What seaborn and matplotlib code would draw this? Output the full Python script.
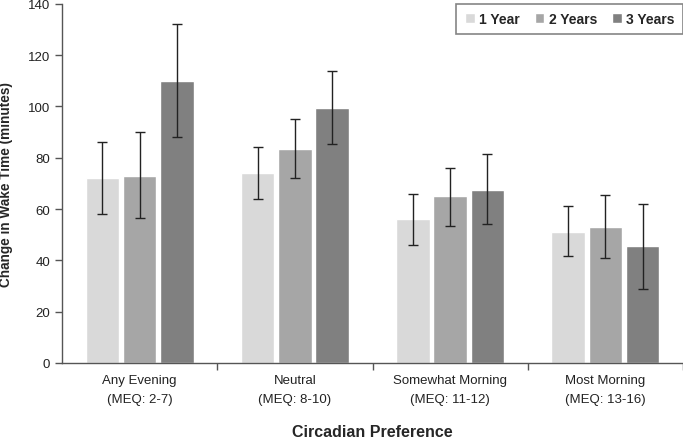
import numpy as np
import pandas as pd
import matplotlib
matplotlib.use("Agg")
import matplotlib.pyplot as plt
import seaborn as sns

groups = ["Any Evening\n(MEQ: 2-7)", "Neutral\n(MEQ: 8-10)",
          "Somewhat Morning\n(MEQ: 11-12)", "Most Morning\n(MEQ: 13-16)"]
years = ["1 Year", "2 Years", "3 Years"]
colors = ["#d9d9d9", "#a6a6a6", "#808080"]

# mean change per group, one list per follow-up year
mean_1y = [72, 74, 56, 51]
mean_2y = [73, 83.5, 65, 53]
mean_3y = [110, 99.5, 67.5, 45.5]
# error bar ends
low_1y = [58, 64, 46, 41.5]
high_1y = [86, 84, 66, 61]
low_2y = [56.5, 72, 53.5, 41]
high_2y = [90, 95, 76, 65.5]
low_3y = [88, 85.5, 54, 29]
high_3y = [132, 114, 81.5, 62]

means = [mean_1y, mean_2y, mean_3y]
lows = [low_1y, low_2y, low_3y]
highs = [high_1y, high_2y, high_3y]

df = pd.DataFrame({
    "group": groups * 3,
    "year": np.repeat(years, 4),
    "value": mean_1y + mean_2y + mean_3y,
})

sns.set_style("white")
plt.rcParams["font.family"] = ["Liberation Sans", "DejaVu Sans"]

fig = plt.figure(figsize=(6.83, 4.39), dpi=100)
ax = fig.add_axes([0.0908, 0.171, 0.9092, 0.818])

sns.barplot(data=df, x="group", y="value", hue="year", palette=colors,
            width=0.72, gap=0.1, errorbar=None, ax=ax, saturation=1)

for cont, m, lo, hi in zip(ax.containers, means, lows, highs):
    xs = [b.get_x() + b.get_width() / 2 for b in cont]
    m = np.array(m); lo = np.array(lo); hi = np.array(hi)
    ax.errorbar(xs, m, yerr=[m - lo, hi - m], fmt="none", ecolor="#222222",
                elinewidth=1.0, capsize=3.5, capthick=1.0)

ax.set_ylim(0, 140)
ax.set_xlim(-0.5, 3.5)
ax.set_yticks(range(0, 141, 20))
ax.set_xticks(range(4))
ax.set_xticks([0.5, 1.5, 2.5, 3.5], minor=True)
ax.tick_params(axis="x", which="major", length=0, pad=8, labelsize=9.5,
               colors="#222222")
ax.tick_params(axis="x", which="minor", length=5, width=1, color="#555555",
               direction="out", bottom=True)
ax.tick_params(axis="y", length=5, width=1, color="#555555", direction="out",
               left=True, labelsize=9.5, labelcolor="#222222")
for lab in ax.get_xticklabels():
    lab.set_linespacing(1.75)

sns.despine(ax=ax)
for s in ["left", "bottom"]:
    ax.spines[s].set_color("#555555")
    ax.spines[s].set_linewidth(1)

ax.set_ylabel("Change in Wake Time (minutes)", fontsize=9.8, fontweight="bold",
              labelpad=11)
ax.set_xlabel("Circadian Preference", fontsize=11.5, fontweight="bold")
ax.xaxis.set_label_coords(0.5, -0.17)

leg = ax.legend(loc="upper right", ncol=3, frameon=True, fancybox=False,
                prop={"weight": "bold", "size": 10}, handlelength=0.7,
                handleheight=0.7, handletextpad=0.3, columnspacing=1.1,
                borderpad=0.6, borderaxespad=0.0, bbox_to_anchor=(1.0, 1.0))
leg.get_frame().set_edgecolor("#666666")
leg.get_frame().set_linewidth(1.2)

fig.savefig("out.png", dpi=100)
